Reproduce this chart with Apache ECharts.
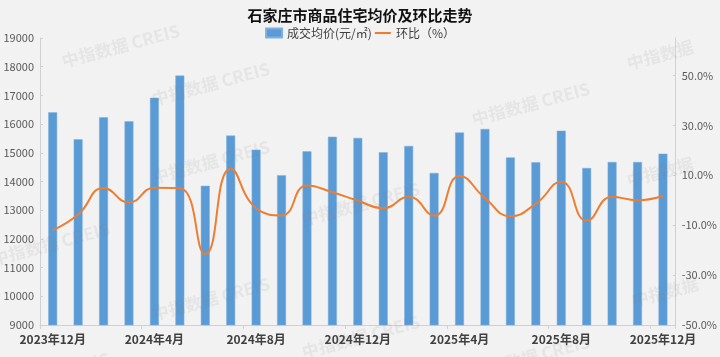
<!DOCTYPE html>
<html>
<head>
<meta charset="utf-8">
<script src="https://cdn.jsdelivr.net/npm/echarts@6/dist/echarts.min.js"></script>
<style>
html,body{margin:0;padding:0;background:#f2f2f2;}
#chart{width:720px;height:357px;}
</style>
</head>
<body>
<div id="chart"></div>
<script>
const categories = ['2023年12月','2024年1月','2024年2月','2024年3月','2024年4月','2024年5月','2024年6月','2024年7月','2024年8月','2024年9月','2024年10月','2024年11月','2024年12月','2025年1月','2025年2月','2025年3月','2025年4月','2025年5月','2025年6月','2025年7月','2025年8月','2025年9月','2025年10月','2025年11月','2025年12月'];
const avgPrice = [16410,15470,16240,16100,16920,17690,13850,15600,15110,14220,15050,15560,15520,15020,15240,14300,15710,15830,14840,14670,15770,14470,14680,14680,14970];
const momChange = [-12.0,-5.7,4.9,-0.9,5.0,4.8,-21.6,12.6,-3.2,-6.1,5.9,3.2,-0.2,-3.2,1.4,-6.2,9.7,0.9,-6.4,-1.4,7.4,-8.2,1.4,0.0,1.8];
const leftTicks = {min: 9000, max: 19000, interval: 1000};
const rightTicks = {min: -50, max: 65, interval: 20};

const chart = echarts.init(document.getElementById('chart'), null, {renderer: 'canvas'});
const font = '"Noto Sans CJK SC", "Microsoft YaHei", sans-serif';
const wm = [
  [60, 2], [150, 40], [625, 18], [-10, 200], [150, 118], [300, 160], [625, 135],
  [150, 255], [300, 293], [470, 313], [630, 255], [-10, 330], [470, 60]
];
const wmTexts = ['中指数据 CREIS','中指数据 CREIS','中指数据','中指数据 CREIS','中指数据 CREIS','中指数据 CREIS','中指数据','中指数据 CREIS','中指数据 CREIS','中指数据 CREIS','中指数据','中指数据 CREIS','中指数据 CREIS'];
const graphics = wm.map((p, i) => ({
  type: 'text', left: p[0], top: p[1] + 20, rotation: 0.26, z: 100, silent: true,
  style: {text: wmTexts[i], fill: 'rgba(120,120,120,0.10)', font: 'bold 17px ' + font}
}));

chart.setOption({
  backgroundColor: '#f2f2f2',
  textStyle: {fontFamily: font},
  graphic: graphics,
  title: {
    text: '石家庄市商品住宅均价及环比走势',
    left: 'center', top: 3,
    textStyle: {fontSize: 15, fontWeight: 'bold', color: '#111', fontFamily: font}
  },
  legend: {
    top: 22, left: 'center',
    itemGap: 3, itemWidth: 16, itemHeight: 9,
    symbolKeepAspect: true,
    textStyle: {fontSize: 12, color: '#404040', fontFamily: font},
    data: [
      {name: '成交均价(元/㎡)', icon: 'rect'},
      {name: '环比（%）', icon: 'path://M0,0 L20,0 L20,2.6 L0,2.6 Z', itemStyle: {color: '#ED7D31'}}
    ]
  },
  grid: {left: 40, right: 43, top: 38, bottom: 32, containLabel: false},
  xAxis: {
    type: 'category', data: categories,
    axisLine: {onZero: false, lineStyle: {color: '#d0d0d0'}},
    axisTick: {show: true, interval: 3, length: 4, lineStyle: {color: '#d0d0d0'}},
    axisLabel: {interval: 3, fontSize: 12, fontWeight: 'bold', color: '#404040', margin: 8, fontFamily: font}
  },
  yAxis: [
    {
      type: 'value', min: leftTicks.min, max: leftTicks.max, interval: leftTicks.interval,
      axisLine: {show: true, lineStyle: {color: '#d0d0d0'}},
      axisTick: {show: true, inside: true, length: 3, lineStyle: {color: '#d0d0d0'}},
      splitLine: {show: false},
      axisLabel: {fontSize: 11, color: '#595959', margin: 6, fontFamily: font, formatter: v => String(v)}
    },
    {
      type: 'value', min: rightTicks.min, max: rightTicks.max, interval: rightTicks.interval,
      axisLine: {show: true, lineStyle: {color: '#d0d0d0'}},
      axisTick: {show: true, inside: true, length: 3, lineStyle: {color: '#d0d0d0'}},
      splitLine: {show: false},
      axisLabel: {
        fontSize: 11, color: '#595959', margin: 6, fontFamily: font, showMaxLabel: false,
        formatter: v => (v > 50 ? '' : v.toFixed(1) + '%')
      }
    }
  ],
  series: [
    {
      name: '成交均价(元/㎡)', type: 'bar', data: avgPrice, barWidth: '35%',
      itemStyle: {color: '#5B9BD5', borderColor: '#7fb0de', borderWidth: 0.5}
    },
    {
      name: '环比（%）', type: 'line', yAxisIndex: 1, data: momChange,
      smooth: 0.5, symbol: 'none', z: 5,
      lineStyle: {color: '#ED7D31', width: 2},
      itemStyle: {color: '#ED7D31'}
    }
  ]
});
</script>
</body>
</html>
